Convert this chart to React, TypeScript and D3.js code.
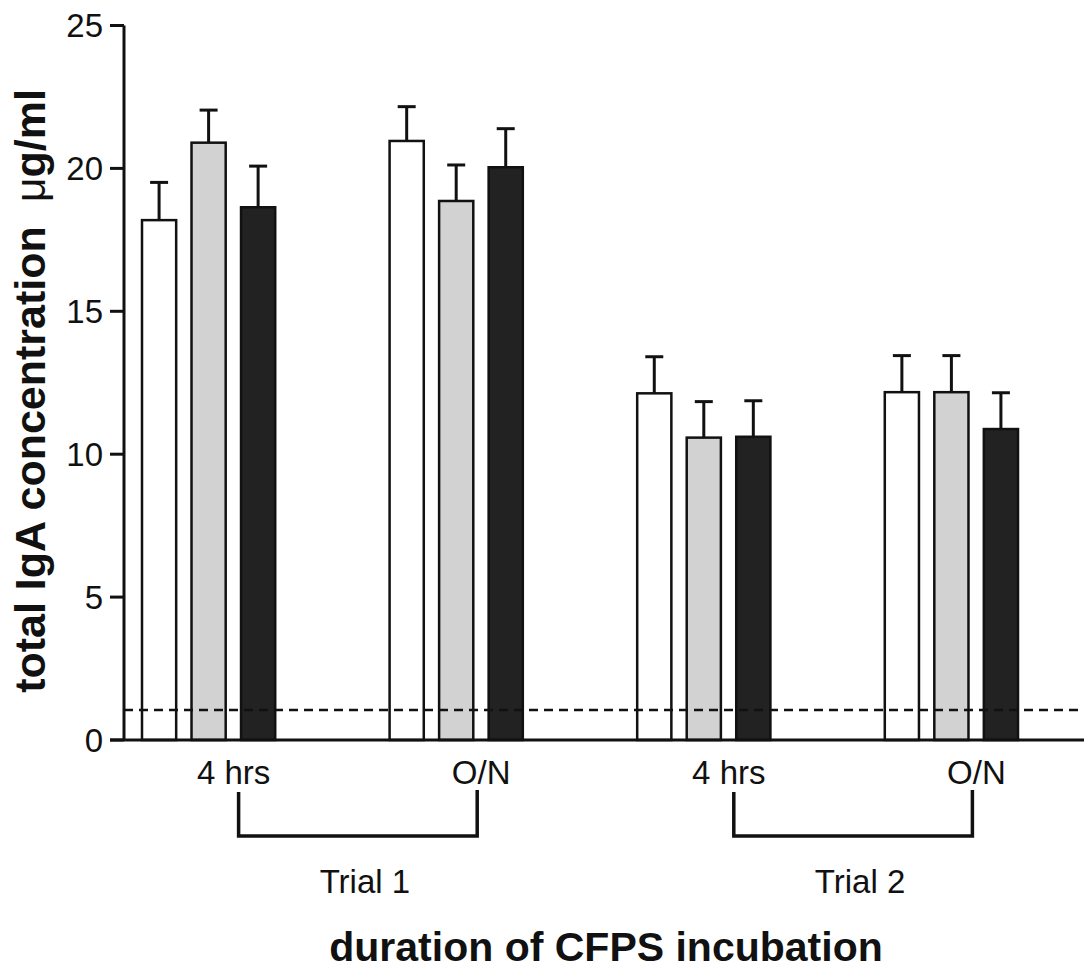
import React from "react";
import * as d3 from "d3";

const groups = ["T1-4h", "T1-ON", "T2-4h", "T2-ON"];
const groupLabels = ["4 hrs", "O/N", "4 hrs", "O/N"];
const seriesNames = ["white", "gray", "black"];
const whiteMeans = [18.19, 20.96, 12.13, 12.17];
const grayMeans = [20.9, 18.86, 10.58, 12.17];
const blackMeans = [18.64, 20.04, 10.61, 10.88];
const whiteErr = [1.32, 1.2, 1.28, 1.28];
const grayErr = [1.14, 1.26, 1.26, 1.28];
const blackErr = [1.44, 1.35, 1.26, 1.27];
const yTicks = [0, 5, 10, 15, 20, 25];
const trials = ["Trial 1", "Trial 2"];
const detectionLimit = 1.05;

const W = 1084;
const H = 979;
const FONT = "'Liberation Sans', Arial, Helvetica, sans-serif";

export default function App() {
  const y = d3.scaleLinear().domain([0, 25]).range([740, 25.5]);
  const xg = d3.scaleBand<string>().domain(groups).range([142, 1018]).paddingInner(0.462).paddingOuter(0);
  const xs = d3.scaleBand<string>().domain(seriesNames).range([0, xg.bandwidth()]).paddingInner(0.31).paddingOuter(0);
  const fills: Record<string, string> = { white: "#ffffff", gray: "#d2d2d2", black: "#222222" };
  const meansBy: Record<string, number[]> = { white: whiteMeans, gray: grayMeans, black: blackMeans };
  const errBy: Record<string, number[]> = { white: whiteErr, gray: grayErr, black: blackErr };
  const axisX = 124;
  const y0 = y(0);
  const capW = 18;
  const center = (g: string) => (xg(g) as number) + xg.bandwidth() / 2;

  const bars: any[] = [];
  groups.forEach((g, gi) => {
    seriesNames.forEach((s) => {
      const x = (xg(g) as number) + (xs(s) as number);
      const bw = xs.bandwidth();
      const v = meansBy[s][gi];
      const e = errBy[s][gi];
      const cx = x + bw / 2;
      bars.push(
        <g key={g + s}>
          <line x1={cx} x2={cx} y1={y(v)} y2={y(v + e)} stroke="#111" strokeWidth={3} />
          <line x1={cx - capW / 2} x2={cx + capW / 2} y1={y(v + e)} y2={y(v + e)} stroke="#111" strokeWidth={3} />
          <rect x={x} y={y(v)} width={bw} height={y0 - y(v)} fill={fills[s]} stroke="#111" strokeWidth={2.5} />
        </g>
      );
    });
  });

  const brackets = [0, 1].map((ti) => {
    const gl = groups[ti * 2];
    const gr = groups[ti * 2 + 1];
    const xl = center(gl) + 30;
    const xr = center(gr) + 21;
    return (
      <g key={"br" + ti}>
        <path d={`M${xl},792 L${xl},836 L${xr},836 L${xr},790`} fill="none" stroke="#111" strokeWidth={3.5} />
        <text x={(xl + xr) / 2 + 7} y={893} textAnchor="middle" fontSize={33} fontFamily={FONT} fill="#111">
          {trials[ti]}
        </text>
      </g>
    );
  });

  return (
    <svg width={W} height={H} style={{ position: "absolute", left: 0, top: 0, background: "#fff" }}>
      <rect x={0} y={0} width={W} height={H} fill="#fff" />
      {bars}
      <line x1={axisX} x2={W} y1={y(detectionLimit)} y2={y(detectionLimit)} stroke="#111" strokeWidth={2.5} strokeDasharray="9,6" />
      <line x1={axisX} x2={axisX} y1={y(25)} y2={y0} stroke="#111" strokeWidth={3} />
      <line x1={110} x2={W} y1={y0} y2={y0} stroke="#111" strokeWidth={3} />
      {yTicks.map((t) => (
        <g key={t}>
          <line x1={110} x2={axisX} y1={y(t)} y2={y(t)} stroke="#111" strokeWidth={3} />
          <text x={103} y={y(t)} dy="0.36em" textAnchor="end" fontSize={33} fontFamily={FONT} fill="#111">
            {t}
          </text>
        </g>
      ))}
      {groups.map((g, i) => (
        <text key={g} x={center(g) + 25} y={784} textAnchor="middle" fontSize={33} fontFamily={FONT} fill="#111">
          {groupLabels[i]}
        </text>
      ))}
      {brackets}
      <text x={606} y={961} textAnchor="middle" fontSize={41} fontWeight="bold" fontFamily={FONT} fill="#111">
        duration of CFPS incubation
      </text>
      <text transform="translate(45,391) rotate(-90)" textAnchor="middle" fontSize={43} fontFamily={FONT} fill="#111">
        <tspan fontWeight="bold">total IgA concentration</tspan>
        <tspan>{"\u00a0\u00a0\u03bc"}</tspan>
        <tspan fontWeight="bold">g/ml</tspan>
      </text>
    </svg>
  );
}
